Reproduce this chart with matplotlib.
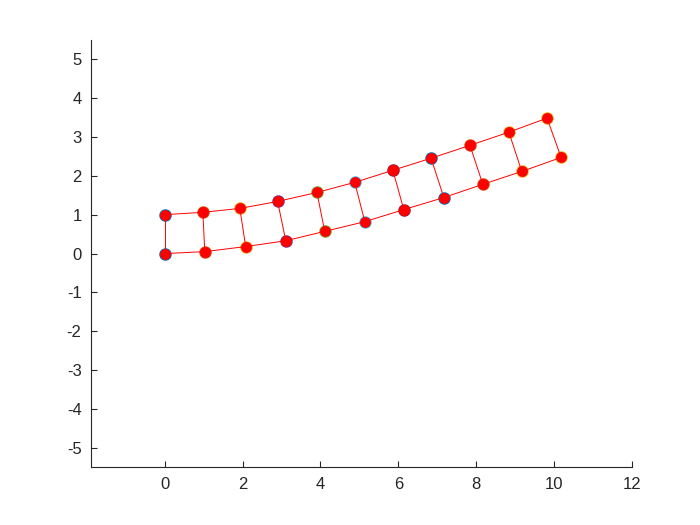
import numpy as np
import matplotlib.pyplot as plt

plt.rcParams['font.family'] = ['Liberation Sans', 'DejaVu Sans']
plt.rcParams['axes.unicode_minus'] = False

# nodes of the deformed beam (bottom and top rows)
x_bot = [0, 1.03, 2.08, 3.11, 4.11, 5.14, 6.14, 7.17, 8.17, 9.17, 10.18]
y_bot = [0, 0.05, 0.18, 0.33, 0.57, 0.82, 1.13, 1.44, 1.78, 2.11, 2.47]
x_top = [0, 0.98, 1.93, 2.90, 3.91, 4.88, 5.86, 6.84, 7.84, 8.84, 9.82]
y_top = [1.0, 1.06, 1.16, 1.34, 1.57, 1.83, 2.14, 2.45, 2.78, 3.12, 3.48]
pair_colors = ['#0072BD', '#D95319', '#EDB120', '#7E2F8E', '#77AC30', '#4DBEEE',
               '#A2142F', '#0072BD', '#D95319', '#EDB120', '#EDB120']

fig = plt.figure(figsize=(7, 5.25), dpi=100)
ax = fig.add_axes([0.1304, 0.11, 0.7724, 0.814])

# colored markers underneath
for i in range(len(x_bot)):
    ax.plot([x_bot[i], x_top[i]], [y_bot[i], y_top[i]], 'o', ms=8,
            mfc=pair_colors[i], mec=pair_colors[i], zorder=2)

# red mesh lines
ax.plot(x_bot, y_bot, 'r-', lw=0.7, zorder=3)
ax.plot(x_top, y_top, 'r-', lw=0.7, zorder=3)
for i in range(len(x_bot)):
    ax.plot([x_bot[i], x_top[i]], [y_bot[i], y_top[i]], 'r-', lw=0.7, zorder=3)

# red markers on top
ax.plot(x_bot, y_bot, 'o', ms=6.8, mfc='red', mec='red', zorder=4)
ax.plot(x_top, y_top, 'o', ms=6.8, mfc='red', mec='red', zorder=4)

ax.set_xlim(-1.885, 12)
ax.set_ylim(-5.49, 5.49)
ax.set_xticks(np.arange(0, 13, 2))
ax.set_yticks(np.arange(-5, 6, 1))
for s in ['top', 'right']:
    ax.spines[s].set_visible(False)
for s in ['left', 'bottom']:
    ax.spines[s].set_color('#262626')
    ax.spines[s].set_linewidth(0.8)
ax.tick_params(direction='in', length=4, width=0.8, colors='#262626',
               labelsize=12, pad=7)

fig.savefig('out.png')
